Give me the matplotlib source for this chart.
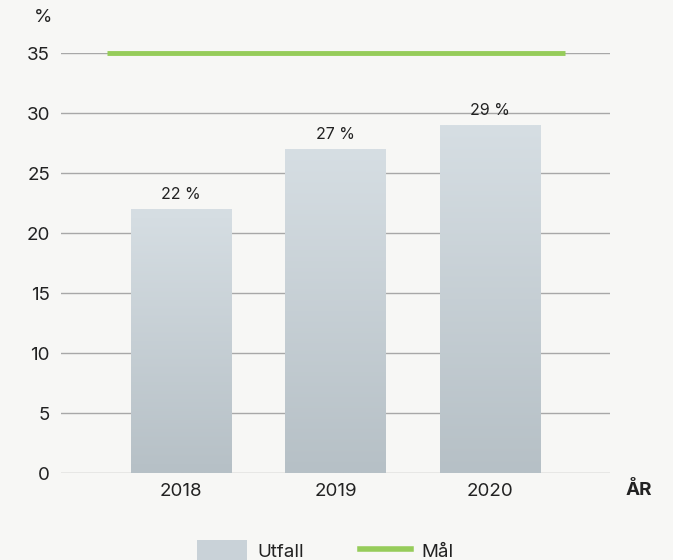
import matplotlib.pyplot as plt
import numpy as np
from matplotlib.patches import Patch
from matplotlib.lines import Line2D
from matplotlib.colors import LinearSegmentedColormap

plt.rcParams['font.family'] = ['Inter', 'DejaVu Sans']

years = ["2018", "2019", "2020"]
utfall = [22, 27, 29]
labels = ["22 %", "27 %", "29 %"]
maal = 35
yticks = [0, 5, 10, 15, 20, 25, 30, 35]

bg = "#f7f7f5"
green = "#96cc5a"
text_col = "#222222"

fig = plt.figure(figsize=(6.73, 5.6), dpi=100, facecolor=bg)
ax = fig.add_axes([61 / 673, 87 / 560, 549 / 673, 420 / 560], facecolor=bg)

x = np.arange(len(years))
width = 0.65

# gridlines
for t in yticks:
    ax.axhline(t, color="#a8a8a8", lw=1, zorder=1)

# bars with vertical gradient
grad = np.linspace(0, 1, 256).reshape(-1, 1)
cmap = LinearSegmentedColormap.from_list("g", ["#b6c0c6", "#d6dee3"])
bars = ax.bar(x, utfall, width, color="none", zorder=2)
for b, v in zip(bars, utfall):
    x0 = b.get_x()
    ax.imshow(grad, extent=[x0, x0 + width, 0, v], origin="lower",
              cmap=cmap, aspect="auto", zorder=2)
ax.set_xlim(-0.777, 2.777)
ax.set_ylim(0, 35)

for xi, v, lab in zip(x, utfall, labels):
    ax.text(xi, v + 0.6, lab, ha="center", va="bottom", fontsize=11.5,
            color=text_col)

# target line
ax.plot([-0.48, 2.485], [maal, maal], color=green, lw=3.5, zorder=3,
        clip_on=False, solid_capstyle="butt")

for s in ax.spines.values():
    s.set_visible(False)
ax.set_yticks(yticks)
ax.set_yticklabels([str(t) for t in yticks], fontsize=13.5, color=text_col)
ax.set_xticks(x)
ax.set_xticklabels(years, fontsize=13.5, color=text_col)
ax.tick_params(length=0, axis="y", pad=8)
ax.tick_params(length=0, axis="x", pad=7)

fig.text(43 / 673, 1 - 18 / 560, "%", ha="center", va="center",
         fontsize=13.5, color=text_col)
fig.text(639 / 673, 1 - 490 / 560, "ÅR", ha="center", va="center",
         fontsize=13.5, fontweight="bold", color=text_col)

handles = [Patch(facecolor="#c9d2d8", edgecolor="none"),
           Line2D([0], [0], color=green, lw=4)]
fig.legend(handles, ["Utfall", "Mål"], loc="center", ncol=2,
           bbox_to_anchor=(325 / 673, 1 - 551 / 560), frameon=False,
           fontsize=13.5, handlelength=2.7, handleheight=1.4,
           columnspacing=3.0, handletextpad=0.55, labelcolor=text_col)

fig.savefig("out.png", dpi=100, facecolor=bg)
